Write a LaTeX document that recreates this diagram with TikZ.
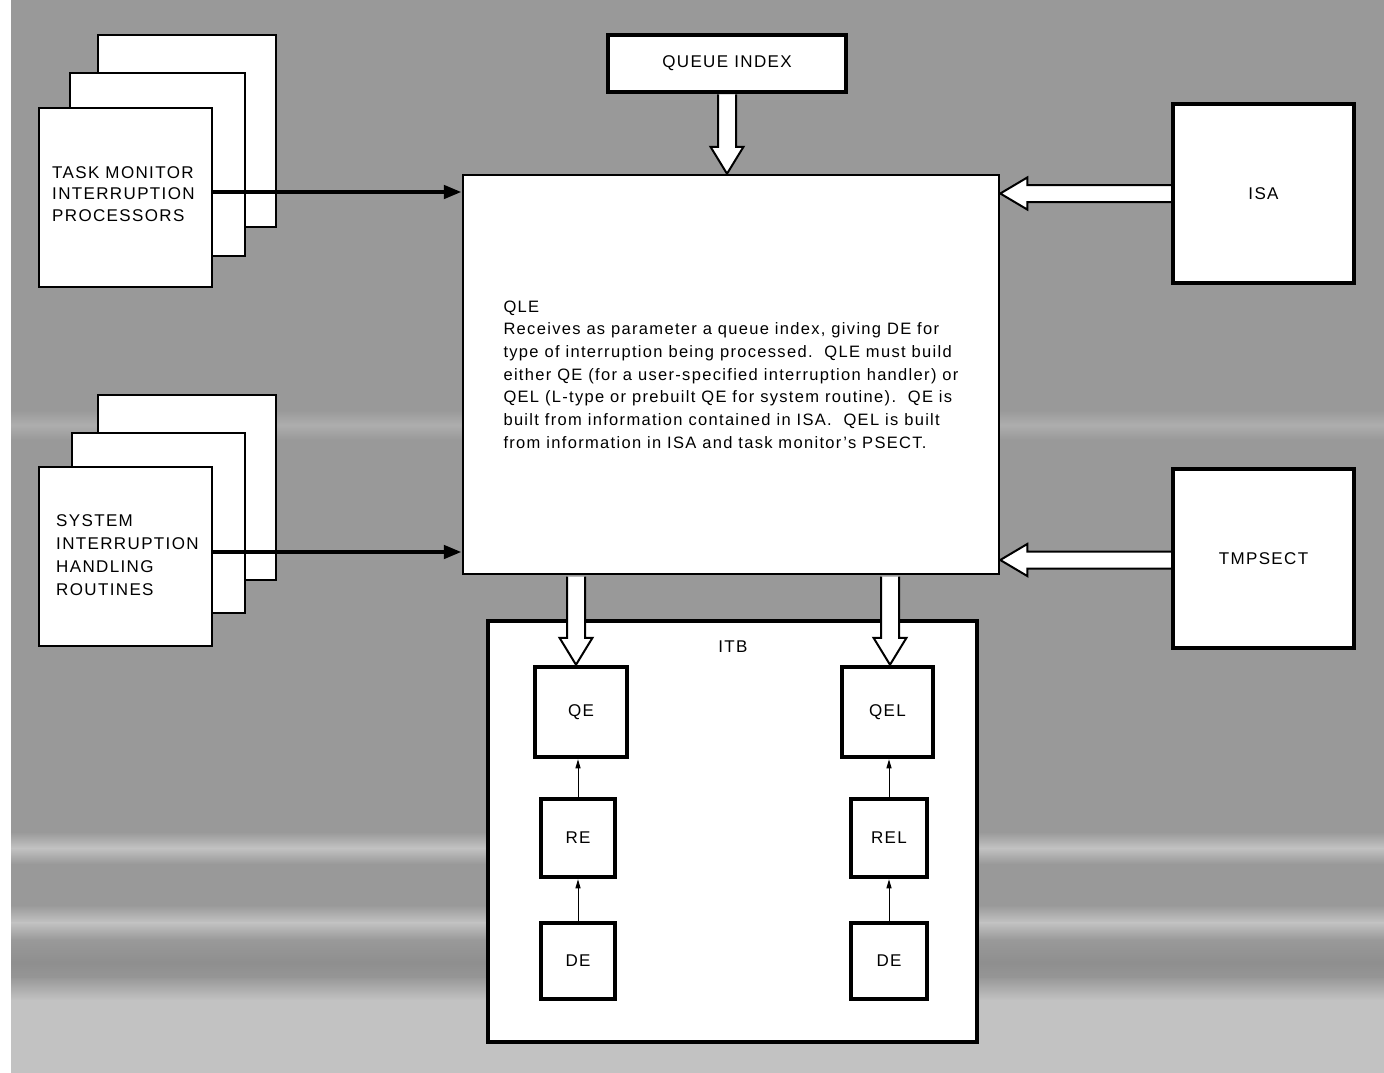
\documentclass[tikz,border=0pt]{standalone}
\usepackage{fontspec}
\setmainfont{Liberation Sans}[LetterSpace=8]
\usetikzlibrary{calc,arrows.meta,backgrounds}
\definecolor{bggray}{gray}{0.60}
\definecolor{bgdark}{gray}{0.56}
\definecolor{bglight}{gray}{0.76}
\newcommand\lblfont{\fontsize{17}{21.5}\selectfont}
\newcommand\txtfont{\fontsize{16.5}{22.7}\selectfont}
\newcommand\hollowv[2]{%
  \draw[hollow] let \p1=(#1), \p2=(#2) in
    (\x2-9pt,\y1) -- (\x2-9pt,\y2+27pt) -- (\x2-16.5pt,\y2+27pt) -- (\x2,\y2)
    -- (\x2+16.5pt,\y2+27pt) -- (\x2+9pt,\y2+27pt) -- (\x2+9pt,\y1);}
\newcommand\hollowh[2]{%
  \draw[hollow] let \p1=(#1), \p2=(#2) in
    (\x1,\y2+8.5pt) -- (\x2+27pt,\y2+8.5pt) -- (\x2+27pt,\y2+16pt) -- (\x2,\y2)
    -- (\x2+27pt,\y2-16pt) -- (\x2+27pt,\y2-8.5pt) -- (\x1,\y2-8.5pt);}
\newcommand\streak[4]{% y-top, y-bottom, outer colour, inner colour
  \shade[top color=#3, bottom color=#4] (11,#1) rectangle (1384,{(#1+#2)/2});
  \shade[top color=#4, bottom color=#3] (11,{(#1+#2)/2}) rectangle (1384,#2);}
\tikzset{
  stackbox/.style={draw, line width=2.5pt, fill=white, inner sep=0pt},
  heavybox/.style={draw, line width=4.5pt, fill=white, inner sep=0pt, font=\lblfont},
  mainbox/.style={draw, line width=2.5pt, fill=white, inner sep=0pt, font=\txtfont, align=left},
  hollow/.style={draw=black, fill=white, line width=2pt, line join=miter},
  fatarrow/.style={line width=4.5pt, -{Triangle[length=18pt,width=13pt]}},
  thinarrow/.style={line width=1pt, -{Triangle[length=9pt,width=5pt]}},
  lbl/.style={inner sep=0pt, font=\lblfont, align=left},
}
\begin{document}
\begin{tikzpicture}[x=1pt,y=-1pt]
\useasboundingbox (0,0) rectangle (1384,1073);
\begin{scope}[on background layer]
  \fill[white] (0,0) rectangle (1384,1073);
  \fill[bggray] (11,0) rectangle (1384,1073);
  \streak{410}{440}{bggray}{bggray!80!white}
  \streak{832}{864}{bggray}{bglight}
  \streak{905}{940}{bggray}{bglight}
  \streak{940}{985}{bggray}{bgdark}
  \shade[top color=bggray, bottom color=bglight] (11,978) rectangle (1384,1000);
  \fill[bglight] (11,1000) rectangle (1384,1073);
\end{scope}

% stacked boxes: task monitor
\node[stackbox, minimum width=178pt, minimum height=192pt] (tm3) at (187,131) {};
\node[stackbox, minimum width=175pt, minimum height=183pt] (tm2) at (157.5,164.5) {};
\node[stackbox, minimum width=173pt, minimum height=179pt] (tm1) at (125.5,197.5) {};
\node[lbl, anchor=west] (tmtext) at (52,194) {TASK MONITOR\\INTERRUPTION\\PROCESSORS};

% stacked boxes: system routines
\node[stackbox, minimum width=178pt, minimum height=185pt] (sy3) at (187,487.5) {};
\node[stackbox, minimum width=173pt, minimum height=180pt] (sy2) at (158.5,523) {};
\node[stackbox, minimum width=173pt, minimum height=179pt] (sy1) at (125.5,556.5) {};
\node[lbl, anchor=west, font=\fontsize{17}{23}\selectfont] (sytext) at (56,555) {SYSTEM\\INTERRUPTION\\HANDLING\\ROUTINES};

% main
\node[heavybox, minimum width=238pt, minimum height=57pt] (qi) at (727,63.5) {QUEUE INDEX};
\node[mainbox, minimum width=536pt, minimum height=399pt] (qle) at (731,374.5) {QLE\\
Receives as parameter a queue index, giving DE for\\
type of interruption being processed.\ \ QLE must build\\
either QE (for a user-specified interruption handler) or\\
QEL (L-type or prebuilt QE for system routine).\ \ QE is\\
built from information contained in ISA.\ \ QEL is built\\
from information in ISA and task monitor's PSECT.};
\node[heavybox, minimum width=181pt, minimum height=179pt] (isa) at (1263.5,193.5) {ISA};
\node[heavybox, minimum width=181pt, minimum height=179pt] (tmp) at (1263.5,558.5) {TMPSECT};

% ITB
\node[heavybox, minimum width=489pt, minimum height=421pt] (itb) at (732.5,831.5) {};
\node[lbl] (itblabel) at (733,647) {ITB};
\node[heavybox, minimum width=92pt, minimum height=90pt] (qe) at (581,712) {QE};
\node[heavybox, minimum width=91pt, minimum height=90pt] (qel) at (887.5,712) {QEL};
\node[heavybox, minimum width=74pt, minimum height=78pt] (re) at (578,838) {RE};
\node[heavybox, minimum width=76pt, minimum height=78pt] (rel) at (889,838) {REL};
\node[heavybox, minimum width=74pt, minimum height=76pt] (de1) at (578,961) {DE};
\node[heavybox, minimum width=76pt, minimum height=76pt] (de2) at (889,961) {DE};

% hollow arrows
\begin{scope}[on background layer]
  \hollowv{qi.south}{qi.south |- qle.north}
  \hollowh{isa.west}{qle.east |- isa.west}
  \hollowh{tmp.west}{[yshift=-1.5pt]qle.east |- tmp.west}
\end{scope}
\hollowv{[yshift=-1.4pt]qle.south}{[xshift=-5pt]qe.north}
\hollowv{[yshift=-1.4pt]qle.south}{[xshift=2.5pt]qel.north}

% solid arrows
\draw[fatarrow] ([yshift=5.5pt]tm1.east) -- ([yshift=5.5pt]tm1.east -| qle.west);
\draw[fatarrow] ([yshift=4.5pt]sy1.east) -- ([yshift=4.5pt]sy1.east -| qle.west);
\draw[thinarrow] (de1.north) -- (re.south);
\draw[thinarrow] (re.north) -- (re.north |- qe.south);
\draw[thinarrow] (de2.north) -- (rel.south);
\draw[thinarrow] (rel.north) -- (rel.north |- qel.south);
\end{tikzpicture}
\end{document}
